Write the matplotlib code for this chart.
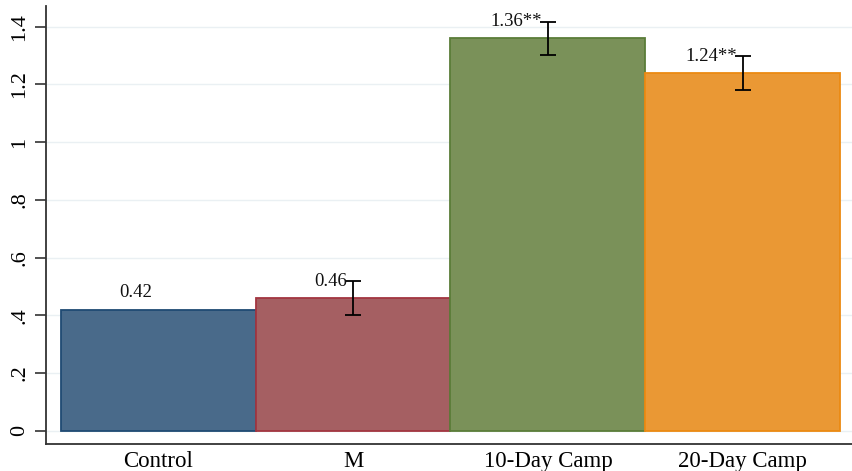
import matplotlib
matplotlib.use("Agg")
import matplotlib.pyplot as plt
import numpy as np

categories = ["Control", "M", "10-Day Camp", "20-Day Camp"]
means = [0.42, 0.46, 1.36, 1.24]
errors = [None, 0.058, 0.058, 0.06]
stars = ["", "", "**", "**"]
yticks = [0, 0.2, 0.4, 0.6, 0.8, 1.0, 1.2, 1.4]
ytick_labels = ["0", ".2", ".4", ".6", ".8", "1", "1.2", "1.4"]

fills = ["#496A8A", "#A55F62", "#7A9159", "#EA9834"]
edges = ["#1F4A73", "#A23540", "#5A7D38", "#EC8A12"]

plt.rcParams["font.family"] = ["Liberation Serif", "DejaVu Serif"]

fig = plt.figure(figsize=(8.52, 4.71), dpi=100)
ax = fig.add_axes([46 / 852, 1 - 444 / 471, 1 - 46 / 852, (444 - 6) / 471])

x = np.arange(len(categories))
ax.bar(x, means, width=1.0, color=fills, edgecolor=edges, linewidth=1.3, zorder=2)

for xi, m, e, s in zip(x, means, errors, stars):
    if e is not None:
        ax.errorbar(xi, m, yerr=e, fmt="none", ecolor="black", elinewidth=1.3,
                    capsize=6, capthick=1.3, zorder=3)
    ax.annotate(f"{m:.2f}{s}", xy=(xi, m), xytext=(-4, 6), textcoords="offset points",
                ha="right", va="bottom", fontsize=13.5, color="#111111", zorder=4)

ax.set_xlim(-0.575, 3.56)
ax.set_ylim(-0.046, 1.472)
ax.set_yticks(yticks)
ax.set_yticklabels(ytick_labels, rotation=90, va="center", fontsize=16)
ax.set_xticks(x)
ax.set_xticklabels(categories, fontsize=16.5)
ax.tick_params(axis="x", length=0, pad=5)
ax.tick_params(axis="y", length=8, width=1.2, color="#333333", pad=4)

ax.grid(axis="y", color="#EAF0F3", linewidth=1.0, zorder=0)
ax.set_axisbelow(True)
for side in ["top", "right"]:
    ax.spines[side].set_visible(False)
for side in ["left", "bottom"]:
    ax.spines[side].set_color("#333333")
    ax.spines[side].set_linewidth(1.3)

fig.savefig("out.png", dpi=100, facecolor="white")
